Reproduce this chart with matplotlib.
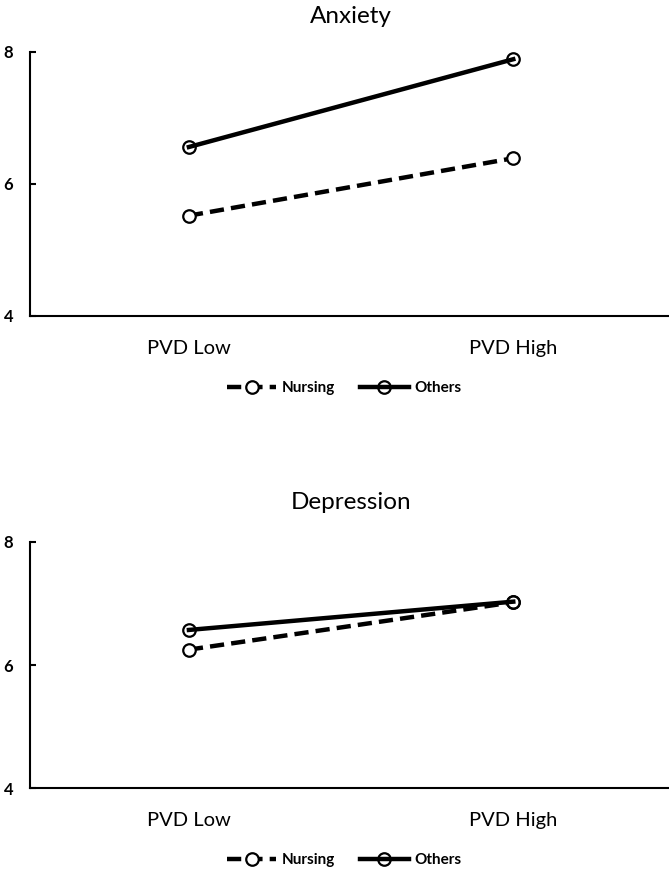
import matplotlib.pyplot as plt

plt.rcParams["font.family"] = ["Lato", "DejaVu Sans"]

groups = ["PVD Low", "PVD High"]
series = ["Nursing", "Others"]
anxiety_nursing = [5.52, 6.39]
anxiety_others = [6.56, 7.89]
depression_nursing = [6.25, 7.02]
depression_others = [6.57, 7.03]
y_ticks = [4, 6, 8]

# title, series values, axes rect, title pad, legend centre y (figure fraction)
panels = [
    ("Anxiety", anxiety_nursing, anxiety_others, [0.0448, 0.6364, 0.96, 0.3038], 21, 0.5535),
    ("Depression", depression_nursing, depression_others, [0.0448, 0.0932, 0.96, 0.2831], 24, 0.0104),
]

fig = plt.figure(figsize=(6.69, 8.69), dpi=100)

for title, nursing, others, rect, tpad, leg_y in panels:
    ax = fig.add_axes(rect)
    x = list(range(len(groups)))
    h1, = ax.plot(x, nursing, color="black", lw=3.2, ls=(0, (3.2, 1.6)), marker="o",
                  ms=9, mfc="white", mec="black", mew=1.6, label=series[0])
    h2, = ax.plot(x, others, color="black", lw=3.2, ls="-", marker="o",
                  ms=9, mfc="none", mec="black", mew=1.6, label=series[1])
    ax.set_xlim(-0.49, 1.49)
    ax.set_ylim(4, 8)
    ax.set_yticks(y_ticks)
    ax.set_yticklabels([str(t) for t in y_ticks], fontweight="bold", fontsize=12)
    ax.set_xticks(x)
    ax.set_xticklabels(groups, fontsize=14.5)
    ax.tick_params(axis="y", direction="in", length=4, width=1.5, pad=12)
    ax.tick_params(axis="x", length=0, pad=17)
    for side in ("top", "right"):
        ax.spines[side].set_visible(False)
    for side in ("left", "bottom"):
        ax.spines[side].set_linewidth(1.5)
    ax.set_title(title, fontsize=17.5, pad=tpad)
    fig.legend([h1, h2], series, loc="center", bbox_to_anchor=(0.515, leg_y),
               ncol=2, frameon=False, prop={"weight": "bold", "size": 11},
               handlelength=3.2, columnspacing=1.6, handletextpad=0.4,
               borderpad=0)

fig.savefig("out.png", dpi=100)
